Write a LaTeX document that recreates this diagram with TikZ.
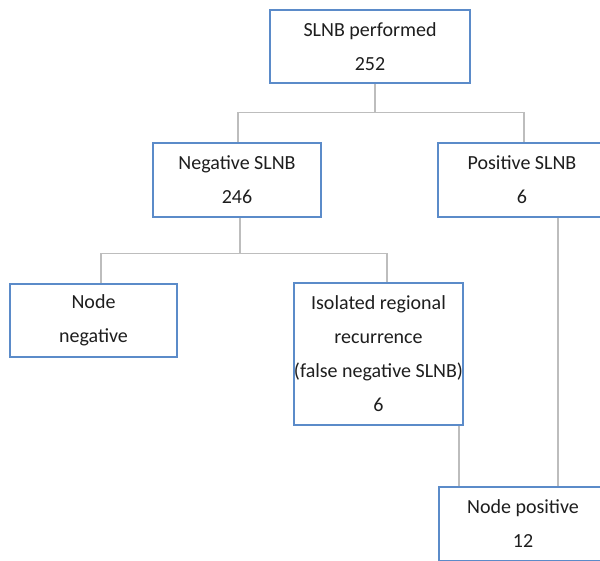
\documentclass[tikz,border=0pt]{standalone}
\usepackage{fontspec}
\setmainfont{Carlito}
\definecolor{boxblue}{HTML}{5B8BC9}
\definecolor{linegray}{HTML}{BDBDBD}
\definecolor{txt}{HTML}{1E1E1E}
\begin{document}
\begin{tikzpicture}
		[x=1pt,y=-1pt,
		box/.style={draw=boxblue,line width=1.6pt,fill=white,align=center,text=txt,
			font=\fontsize{20}{34}\selectfont,inner sep=0pt},
		link/.style={draw=linegray,line width=1.3pt}]

		\useasboundingbox (0,0) rectangle (600,561);
		\clip (0,0) rectangle (600,561);

		\node[box,minimum width=200pt,minimum height=73pt] (perf) at (370,46.5) {SLNB performed\\252};
		\node[box,minimum width=168pt,minimum height=74pt] (neg) at (237,180) {Negative SLNB\\246};
		\node[box,minimum width=168pt,minimum height=74pt] (pos) at (522,180) {Positive SLNB\\6};
		\node[box,minimum width=167pt,minimum height=73pt] (nneg) at (93.5,320.5) {Node\\negative};
		\node[box,minimum width=168pt,minimum height=142pt] (iso) at (378.5,354) {Isolated regional\\recurrence\\(false negative SLNB)\\6};
		\node[box,minimum width=168pt,minimum height=74pt] (npos) at (523,524) {Node positive\\12};

		\draw[link] ([xshift=5pt]perf.south) -- ++(0,29) coordinate (s1);
		\draw[link] ([xshift=1pt]neg.north) |- (s1) -| ([xshift=2pt]pos.north);

		\draw[link] ([xshift=3pt]neg.south) -- ++(0,36) coordinate (s2);
		\draw[link] ([xshift=7.5pt]nneg.north) |- (s2) -| ([xshift=8.5pt]iso.north);

		\draw[link] ([xshift=36pt]pos.south) -- ([xshift=35pt]npos.north);
		\draw[link] ([xshift=80.5pt]iso.south) -- ([xshift=-64pt]npos.north);

\end{tikzpicture}
\end{document}
